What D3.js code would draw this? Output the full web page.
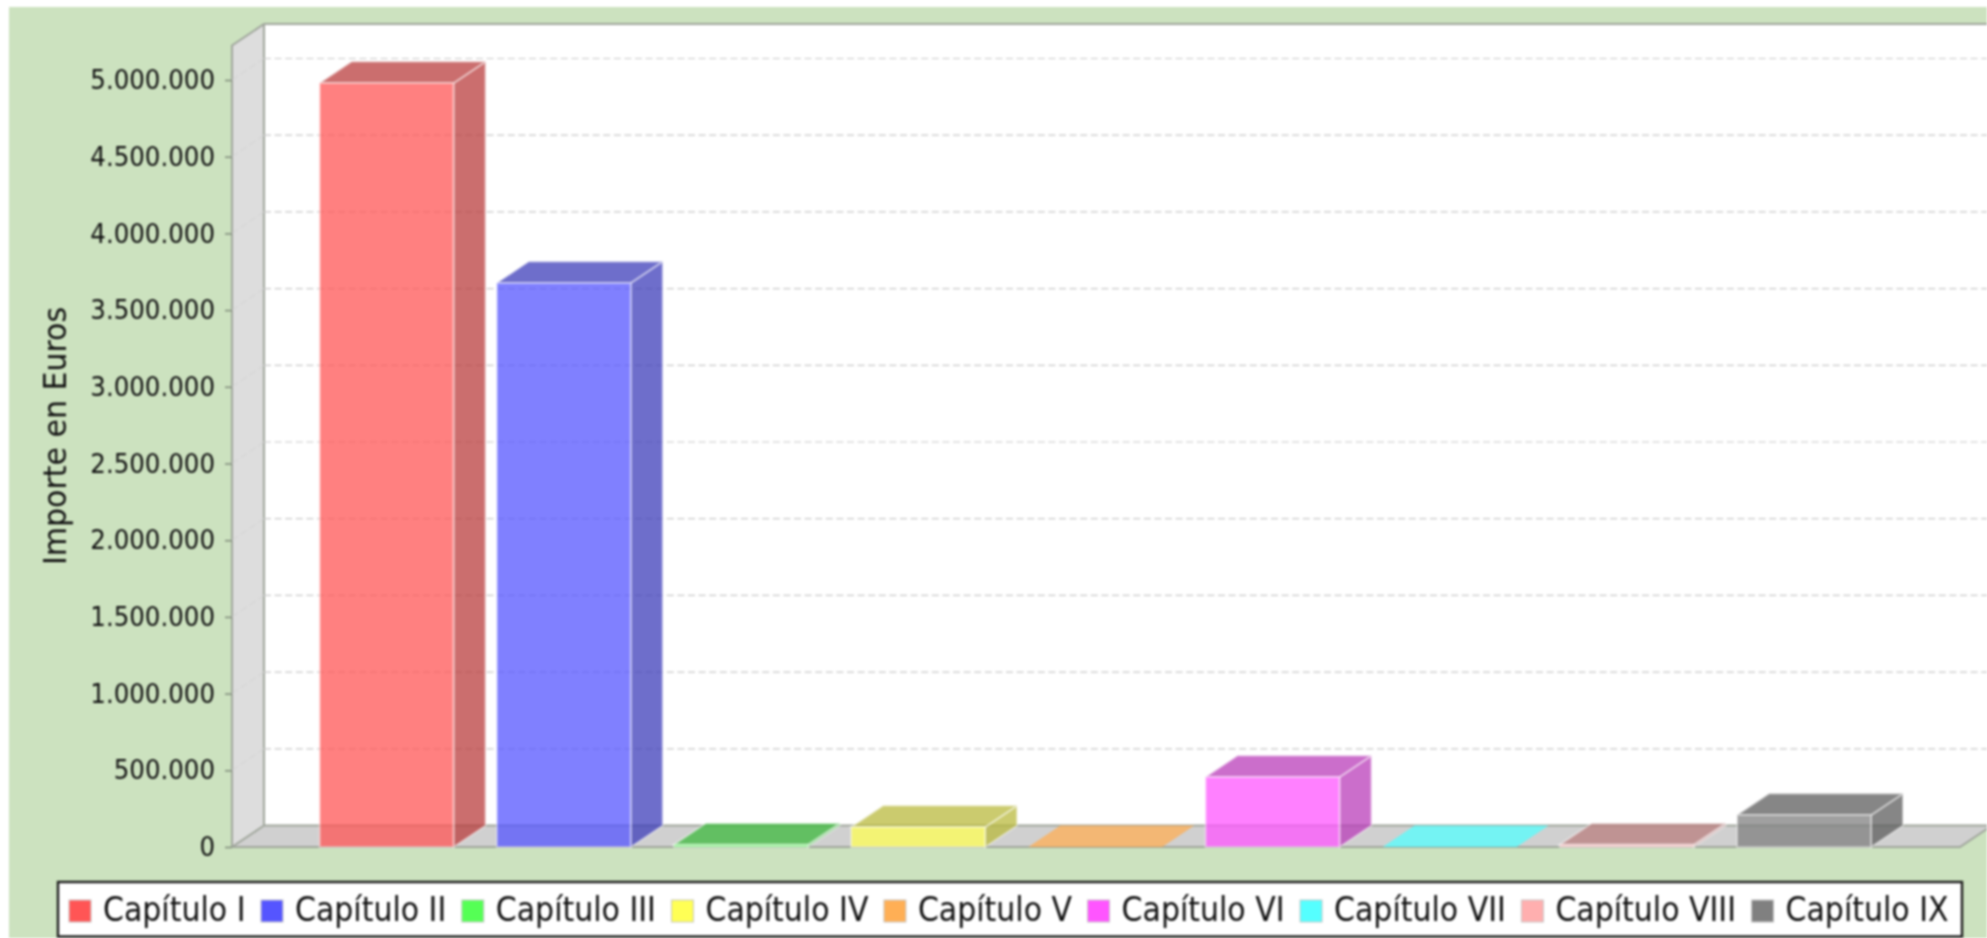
<!DOCTYPE html>
<html>
<head>
<meta charset="utf-8">
<script src="https://cdnjs.cloudflare.com/ajax/libs/d3/7.8.5/d3.min.js"></script>
<style>
html, body { margin: 0; padding: 0; background: #fff; overflow: hidden; }
svg { display: block; filter: blur(0.9px); }
text { font-family: "DejaVu Sans", sans-serif; fill: #111; }
</style>
</head>
<body>
<div id="chart"></div>
<script>
var categories = ["Capítulo I", "Capítulo II", "Capítulo III", "Capítulo IV", "Capítulo V", "Capítulo VI", "Capítulo VII", "Capítulo VIII", "Capítulo IX"];
var values = [4980000, 3677000, 15000, 130000, 0, 456000, 0, 15000, 208000];
var colors = ["#FF5555", "#5555FF", "#55FF55", "#FFFF55", "#FFAF55", "#FF55FF", "#55FFFF", "#FFAFAF", "#808080"];
var yTicks = [0, 500000, 1000000, 1500000, 2000000, 2500000, 3000000, 3500000, 4000000, 4500000, 5000000];

var width = 1987, height = 938;
var left = 232, right = 1960, zeroY = 847, fiveY = 80;
var depthX = 32, depthY = 21.5;
var wallTop = 45.5;

var svg = d3.select("#chart").append("svg")
    .attr("width", width)
    .attr("height", height);

//page background
svg.append("rect")
    .attr("x", 9).attr("y", 7)
    .attr("width", width).attr("height", height)
    .attr("fill", "#CCE2BF");

var x = d3.scaleBand()
    .domain(categories)
    .range([319.6, 1871])
    .paddingInner(0.244)
    .paddingOuter(0);

var y = d3.scaleLinear()
    .domain([0, 5000000])
    .range([zeroY, fiveY]);

function pts(list) {
    return list.map(function (p) { return p.join(","); }).join(" ");
}

//back wall, side wall and floor
svg.append("rect")
    .attr("x", left + depthX).attr("y", wallTop - depthY)
    .attr("width", width).attr("height", zeroY - wallTop)
    .attr("fill", "#fff");

svg.append("polygon")
    .attr("points", pts([[left, wallTop], [left + depthX, wallTop - depthY], [left + depthX, zeroY - depthY], [left, zeroY]]))
    .attr("fill", "#DDDDDD");

svg.append("polygon")
    .attr("points", pts([[left, zeroY], [left + depthX, zeroY - depthY], [width + 5, zeroY - depthY], [right, zeroY]]))
    .attr("fill", "#D0D0D0");

svg.append("path")
    .attr("d", "M" + left + "," + zeroY + "V" + wallTop + "L" + (left + depthX) + "," + (wallTop - depthY) +
        "H" + width + "M" + (left + depthX) + "," + (wallTop - depthY) + "V" + (zeroY - depthY) + "H" + width +
        "M" + (left + depthX) + "," + (zeroY - depthY) + "L" + left + "," + zeroY + "H" + right + "L" + (right + depthX) + "," + (zeroY - depthY))
    .attr("fill", "none")
    .attr("stroke", "#A0A69C")
    .attr("stroke-width", 2);

//gridlines
var grid = svg.append("g");
grid.selectAll("line.back")
    .data(yTicks.slice(1))
    .enter()
    .append("line")
    .attr("class", "back")
    .attr("x1", left + depthX)
    .attr("x2", width)
    .attr("y1", function (d) { return y(d) - depthY; })
    .attr("y2", function (d) { return y(d) - depthY; })
    .attr("stroke", "#C8C8C8")
    .attr("stroke-width", 1.2)
    .attr("stroke-dasharray", "7,3.6");

grid.selectAll("line.side")
    .data(yTicks.slice(1))
    .enter()
    .append("line")
    .attr("class", "side")
    .attr("x1", left)
    .attr("x2", left + depthX)
    .attr("y1", function (d) { return y(d); })
    .attr("y2", function (d) { return y(d) - depthY; })
    .attr("stroke", "#D2D2D2")
    .attr("stroke-width", 1)
    .attr("stroke-dasharray", "7,3.6");

//bars
var bars = svg.selectAll("g.bar")
    .data(categories)
    .enter()
    .append("g")
    .attr("class", "bar");

bars.each(function (d, i) {
    var g = d3.select(this);
    var x0 = x(d), x1 = x(d) + x.bandwidth();
    var y0 = y(0), y1 = y(values[i]);
    var dark = d3.color(colors[i]).darker(0.9).formatHex();
    var edge = {"stroke": "#fff", "stroke-opacity": 0.4, "stroke-width": 2, "fill-opacity": 0.75};

    function face(points, fill) {
        var p = g.append("polygon").attr("points", pts(points)).attr("fill", fill);
        Object.keys(edge).forEach(function (k) { p.attr(k, edge[k]); });
        return p;
    }

    //an empty chapter only leaves a flat plate in its own colour
    if (values[i] === 0) {
        face([[x0, y0], [x0 + depthX, y0 - depthY], [x1 + depthX, y0 - depthY], [x1, y0]], colors[i])
            .attr("stroke", "none");
        return;
    }
    face([[x1, y0], [x1 + depthX, y0 - depthY], [x1 + depthX, y1 - depthY], [x1, y1]], dark);
    face([[x0, y1], [x0 + depthX, y1 - depthY], [x1 + depthX, y1 - depthY], [x1, y1]], dark);
    face([[x0, y0], [x0, y1], [x1, y1], [x1, y0]], colors[i]);
});

//value axis
var fmt = d3.formatLocale({decimal: ",", thousands: ".", grouping: [3], currency: ["", "€"]}).format(",d");
var axis = svg.append("g")
    .attr("transform", "translate(" + left + ",0)")
    .call(d3.axisLeft(y).tickValues(yTicks).tickFormat(fmt).tickSize(7).tickPadding(10));

axis.select(".domain").remove();
axis.selectAll(".tick line").attr("stroke", "#7F8A7A").attr("stroke-width", 1.5);
axis.selectAll(".tick text")
    .attr("font-family", "DejaVu Sans")
    .attr("font-size", 24.5)
    .attr("fill", "#111")
    .attr("transform", "scale(1,1.1)");

svg.append("text")
    .attr("transform", "translate(66,436) rotate(-90) scale(1,1.08)")
    .attr("text-anchor", "middle")
    .attr("font-size", 30)
    .text("Importe en Euros");

//legend
var legend = svg.append("g");
legend.append("rect")
    .attr("x", 58).attr("y", 882)
    .attr("width", 1904).attr("height", 54.5)
    .attr("fill", "#fff")
    .attr("stroke", "#1c1c1c")
    .attr("stroke-width", 2.4);

var cursor = 69;
categories.forEach(function (d, i) {
    legend.append("rect")
        .attr("x", cursor).attr("y", 900)
        .attr("width", 22).attr("height", 22)
        .attr("fill", colors[i])
        .attr("stroke", "#C8C8C8")
        .attr("stroke-width", 1);
    var label = legend.append("text")
        .attr("transform", "translate(" + (cursor + 34) + ",921) scale(1,1.1)")
        .attr("font-size", 30)
        .text(d);
    cursor += 34 + label.node().getComputedTextLength() + 15.5;
});
</script>
</body>
</html>
